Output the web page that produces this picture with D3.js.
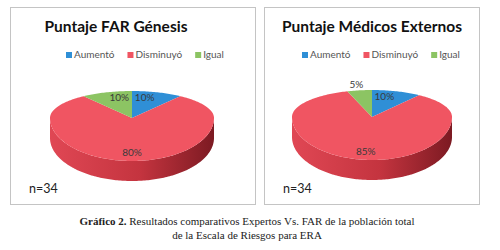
<!DOCTYPE html>
<html>
<head>
<meta charset="utf-8">
<script src="https://cdn.jsdelivr.net/npm/d3@7"></script>
<style>
  body { margin: 0; background: #fff; }
  svg { display: block; }
</style>
</head>
<body>
<div id="chart"></div>
<script>
// data
const categories = ['Aumentó', 'Disminuyó', 'Igual'];
const colors = ['#2f8fd6', '#f05562', '#8cc463'];
const titles = ['Puntaje FAR Génesis', 'Puntaje Médicos Externos'];
const genesisValues = [10, 80, 10];
const externosValues = [10, 85, 5];
const sampleLabel = 'n=34';
const captionBold = 'Gráfico 2.';
const captionLine1 = ' Resultados comparativos Expertos Vs. FAR de la población total';
const captionLine2 = 'de la Escala de Riesgos para ERA';

const width = 500, height = 250;

const svg = d3.select('#chart')
    .append('svg')
    .attr('width', width)
    .attr('height', height);

const defs = svg.append('defs');

// panels: box, pie centre and ellipse radii (back half / front half for the perspective)
const panels = [
    { x: 10, w: 245, cx: 132, cy: 118, rx: 82, ryB: 27, ryF: 43, title: titles[0], values: genesisValues, titleX: 116, legendX: 66 },
    { x: 264, w: 215, cx: 372, cy: 117, rx: 80, ryB: 27, ryF: 43, title: titles[1], values: externosValues, titleX: 372, legendX: 302 }
];
const depth = 20;

const pie = d3.pie().sort(null).value(d => d);

panels.forEach(function (p, pi) {
    const g = svg.append('g');

    g.append('rect')
        .attr('x', p.x + 0.5).attr('y', 7.5)
        .attr('width', p.w).attr('height', 197)
        .attr('fill', '#fff')
        .attr('stroke', '#c4c4c4');

    g.append('text')
        .attr('x', p.titleX).attr('y', 32)
        .attr('text-anchor', 'middle')
        .style('font-family', 'Lato, "Open Sans", sans-serif')
        .style('font-weight', 'bold')
        .style('font-size', '15.5px')
        .style('fill', '#111')
        .text(p.title);

    // legend
    const leg = g.append('g').attr('transform', 'translate(' + p.legendX + ',58)');
    let lx = 0;
    categories.forEach(function (c, i) {
        leg.append('rect')
            .attr('x', lx).attr('y', -6)
            .attr('width', 6).attr('height', 6)
            .attr('fill', colors[i]);
        const t = leg.append('text')
            .attr('x', lx + 8).attr('y', 0)
            .style('font-family', 'Lato, sans-serif')
            .style('font-size', '10px')
            .style('fill', '#555')
            .text(c);
        lx += 8 + t.node().getComputedTextLength() + 13;
    });

    // point on the top ellipse, angle clockwise from 12 o'clock
    function pt(a, dy) {
        const c = Math.cos(a);
        return [p.cx + p.rx * Math.sin(a), p.cy - (c > 0 ? p.ryB : p.ryF) * c + (dy || 0)];
    }
    function arcPts(a0, a1, dy) {
        const n = Math.max(2, Math.ceil((a1 - a0) / 0.02));
        return d3.range(n + 1).map(k => pt(a0 + (a1 - a0) * k / n, dy));
    }

    const arcs = pie(p.values);

    const grad = defs.append('linearGradient')
        .attr('id', 'side' + pi)
        .attr('x1', '0').attr('x2', '1').attr('y1', '0').attr('y2', '0');
    grad.append('stop').attr('offset', '0').attr('stop-color', '#e04754');
    grad.append('stop').attr('offset', '0.55').attr('stop-color', '#c4343f');
    grad.append('stop').attr('offset', '1').attr('stop-color', '#7c1a22');

    const line = d3.line();

    // visible side walls (front half)
    arcs.forEach(function (d, i) {
        const s = Math.max(d.startAngle, Math.PI / 2);
        const e = Math.min(d.endAngle, Math.PI * 3 / 2);
        if (s >= e) return;
        const top = arcPts(s, e, 0);
        const bot = arcPts(s, e, depth).reverse();
        g.append('path')
            .attr('d', line(top.concat(bot)) + 'Z')
            .attr('fill', i === 1 ? 'url(#side' + pi + ')' : d3.color(colors[i]).darker(0.8));
    });

    // top faces
    arcs.forEach(function (d, i) {
        const pts = [[p.cx, p.cy]].concat(arcPts(d.startAngle, d.endAngle, 0));
        g.append('path')
            .attr('d', line(pts) + 'Z')
            .attr('fill', colors[i]);
    });

    // data labels
    arcs.forEach(function (d) {
        const mid = (d.startAngle + d.endAngle) / 2;
        const outside = d.value < 7;
        const fx = outside ? 1.25 : 0.5;
        const fy = outside ? 1.25 : 0.8;
        const c = Math.cos(mid);
        const x = p.cx + p.rx * fx * Math.sin(mid);
        const y = p.cy - (c > 0 ? p.ryB : p.ryF) * fy * c;
        g.append('text')
            .attr('x', x).attr('y', y + 4)
            .attr('text-anchor', 'middle')
            .style('font-family', 'Lato, sans-serif')
            .style('font-size', '10px')
            .style('fill', '#3a3a3a')
            .text(d.value + '%');
    });

    g.append('text')
        .attr('x', p.x + 19).attr('y', 193)
        .style('font-family', 'Lato, sans-serif')
        .style('font-size', '12.5px')
        .style('fill', '#222')
        .text(sampleLabel);
});

// caption
const cap = svg.append('text')
    .attr('x', 247).attr('y', 225)
    .attr('text-anchor', 'middle')
    .style('font-family', '"Liberation Serif", serif')
    .style('font-size', '11px')
    .style('fill', '#222');
cap.append('tspan').style('font-weight', 'bold').text(captionBold);
cap.append('tspan').text(captionLine1);

svg.append('text')
    .attr('x', 247).attr('y', 239)
    .attr('text-anchor', 'middle')
    .style('font-family', '"Liberation Serif", serif')
    .style('font-size', '11px')
    .style('fill', '#222')
    .text(captionLine2);
</script>
</body>
</html>
